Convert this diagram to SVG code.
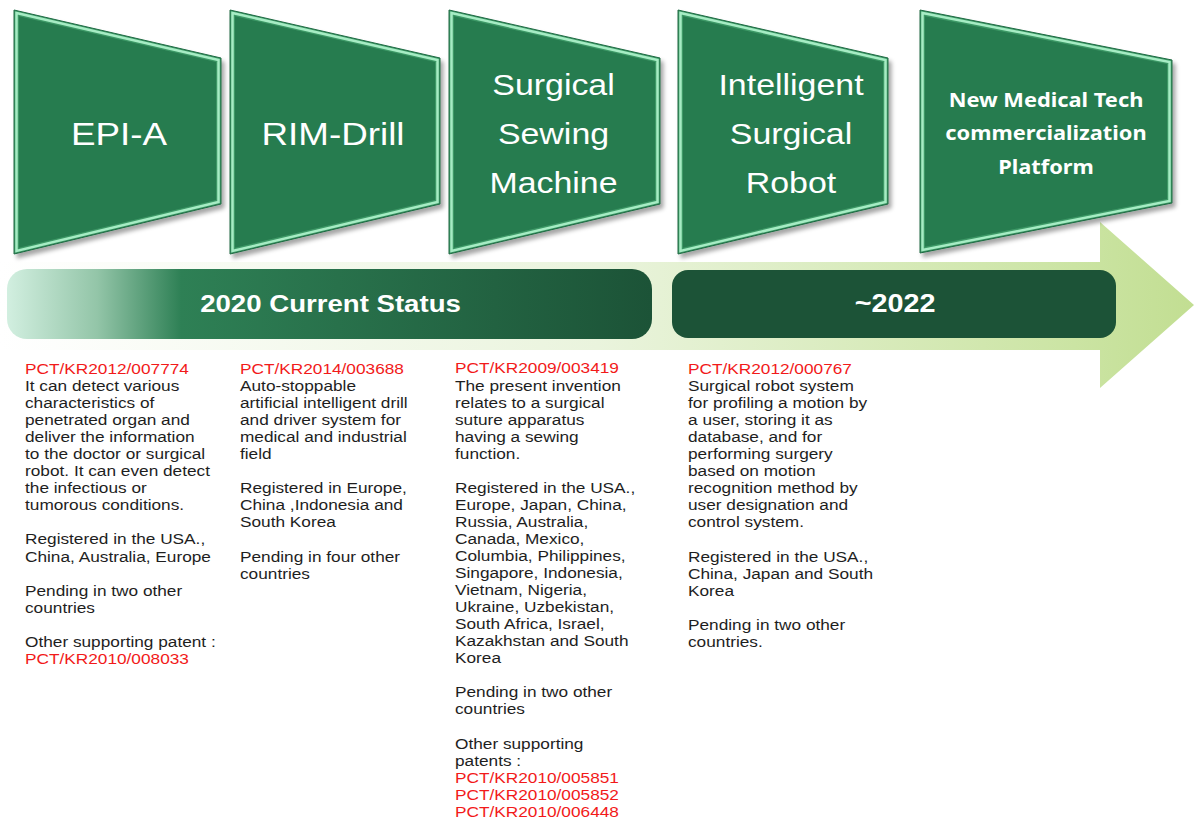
<svg xmlns="http://www.w3.org/2000/svg" width="1194" height="821" viewBox="0 0 1194 821">
<defs>
<linearGradient id="arrowGrad" x1="0" y1="0" x2="1194" y2="0" gradientUnits="userSpaceOnUse">
<stop offset="0" stop-color="#ffffff"/>
<stop offset="0.5" stop-color="#eaf4dd"/>
<stop offset="0.9" stop-color="#cbe4a3"/>
<stop offset="1" stop-color="#c2de92"/>
</linearGradient>
<linearGradient id="pillGrad" x1="7" y1="0" x2="652" y2="0" gradientUnits="userSpaceOnUse">
<stop offset="0" stop-color="#d2efe0"/>
<stop offset="0.14" stop-color="#93c5a8"/>
<stop offset="0.27" stop-color="#2e8055"/>
<stop offset="1" stop-color="#1c5337"/>
</linearGradient>
<filter id="shadow" x="-10%" y="-10%" width="130%" height="130%">
<feDropShadow dx="3" dy="4" stdDeviation="2" flood-color="#000" flood-opacity="0.35"/>
</filter>
<style>
.outer{fill:#3c9966;stroke:#1f6a43;stroke-width:1}
.ridge{fill:none;stroke:#a6ecc4;stroke-width:2.5;stroke-linejoin:miter}
.inner{fill:#287b50}
.title{font-family:"Liberation Sans",Arial,sans-serif;fill:#ffffff;text-anchor:middle}
.t1{font-size:32px}
.t3{font-size:29.5px}
.tb{font-family:"Noto Sans","Open Sans",sans-serif;font-weight:bold;font-size:19.5px}
.bar{font-family:"Liberation Sans",Arial,sans-serif;font-weight:bold;font-size:24px;fill:#ffffff;text-anchor:middle}
.body{font-family:"Liberation Sans",Arial,sans-serif;font-size:15px;fill:#1e1e1e}
.red{fill:#f21a1a}
</style>
</defs>

<g id="timeline-arrow">
<path d="M0,262 H1100 V222 L1194,305 L1100,388 V350 H0 Z" fill="url(#arrowGrad)"/>
</g>

<g id="node-epia" filter="url(#shadow)">
<polygon class="outer" points="14,10 221,58 221,204 14,254"/>
<polygon class="ridge" points="16.5,13 218.5,60 218.5,202 16.5,251"/>
<polygon class="inner" points="19,16.3 216,62 216,200 19,247.7"/>
</g>
<g id="node-rimdrill" filter="url(#shadow)">
<polygon class="outer" points="230,10 440,58 440,204 230,254"/>
<polygon class="ridge" points="232.5,13 437.5,60 437.5,202 232.5,251"/>
<polygon class="inner" points="235,16.3 435,62 435,200 235,247.7"/>
</g>
<g id="node-sewing" filter="url(#shadow)">
<polygon class="outer" points="449,10 660,58 660,204 449,254"/>
<polygon class="ridge" points="451.5,13 657.5,60 657.5,202 451.5,251"/>
<polygon class="inner" points="454,16.3 655,62 655,200 454,247.7"/>
</g>
<g id="node-robot" filter="url(#shadow)">
<polygon class="outer" points="678,10 888,58 888,204 678,254"/>
<polygon class="ridge" points="680.5,13 885.5,60 885.5,202 680.5,251"/>
<polygon class="inner" points="683,16.3 883,62 883,200 683,247.7"/>
</g>
<g id="node-platform" filter="url(#shadow)">
<polygon class="outer" points="920,10 1172,60 1172,203 920,253"/>
<polygon class="ridge" points="922.5,13 1169.5,62 1169.5,201 922.5,250"/>
<polygon class="inner" points="925,16.3 1167,64 1167,199 925,246.7"/>
</g>

<g id="labels-top">
<text class="title t1" transform="translate(119 144.5) scale(1.15 1)">EPI-A</text>
<text class="title t1" transform="translate(333 144.5) scale(1.15 1)">RIM-Drill</text>
<g transform="translate(553.5 0) scale(1.15 1)">
<text class="title t3"><tspan x="0" y="95.5">Surgical</tspan><tspan x="0" y="144.5">Sewing</tspan><tspan x="0" y="193.5">Machine</tspan></text>
</g>
<g transform="translate(791 0) scale(1.15 1)">
<text class="title t3"><tspan x="0" y="95.5">Intelligent</tspan><tspan x="0" y="144.5">Surgical</tspan><tspan x="0" y="193.5">Robot</tspan></text>
</g>
<g transform="translate(1046 0) scale(1.12 1)">
<text class="title tb"><tspan x="0" y="107">New Medical Tech</tspan><tspan x="0" y="140.5">commercialization</tspan><tspan x="0" y="174">Platform</tspan></text>
</g>
</g>

<g id="bar-2020">
<rect x="7" y="269" width="645" height="70" rx="20" ry="20" fill="url(#pillGrad)"/>
<text class="bar" transform="translate(330.5 311.5) scale(1.15 1)">2020 Current Status</text>
</g>
<g id="bar-2022">
<rect x="672" y="270" width="444" height="68" rx="16" ry="16" fill="#1c5337"/>
<text class="bar" style="font-size:25px" transform="translate(895 312) scale(1.15 1)">~2022</text>
</g>

<g id="col-epia" transform="translate(25 0) scale(1.15 1)">
<text class="body">
<tspan class="red" x="0" y="374">PCT/KR2012/007774</tspan>
<tspan x="0" dy="17.05">It can detect various</tspan>
<tspan x="0" dy="17.05">characteristics of</tspan>
<tspan x="0" dy="17.05">penetrated organ and</tspan>
<tspan x="0" dy="17.05">deliver the information</tspan>
<tspan x="0" dy="17.05">to the doctor or surgical</tspan>
<tspan x="0" dy="17.05">robot. It can even detect</tspan>
<tspan x="0" dy="17.05">the infectious or</tspan>
<tspan x="0" dy="17.05">tumorous conditions.</tspan>
<tspan x="0" dy="34.1">Registered in the USA.,</tspan>
<tspan x="0" dy="17.05">China, Australia, Europe</tspan>
<tspan x="0" dy="34.1">Pending in two other</tspan>
<tspan x="0" dy="17.05">countries</tspan>
<tspan x="0" dy="34.1">Other supporting patent :</tspan>
<tspan class="red" x="0" dy="17.05">PCT/KR2010/008033</tspan>
</text>
</g>

<g id="col-rimdrill" transform="translate(240 0) scale(1.15 1)">
<text class="body">
<tspan class="red" x="0" y="374">PCT/KR2014/003688</tspan>
<tspan x="0" dy="17.05">Auto-stoppable</tspan>
<tspan x="0" dy="17.05">artificial intelligent drill</tspan>
<tspan x="0" dy="17.05">and driver system for</tspan>
<tspan x="0" dy="17.05">medical and industrial</tspan>
<tspan x="0" dy="17.05">field</tspan>
<tspan x="0" dy="34.1">Registered in Europe,</tspan>
<tspan x="0" dy="17.05">China ,Indonesia and</tspan>
<tspan x="0" dy="17.05">South Korea</tspan>
<tspan x="0" dy="34.1">Pending in four other</tspan>
<tspan x="0" dy="17.05">countries</tspan>
</text>
</g>

<g id="col-sewing" transform="translate(455 0) scale(1.15 1)">
<text class="body">
<tspan class="red" x="0" y="373.5">PCT/KR2009/003419</tspan>
<tspan x="0" dy="17.05">The present invention</tspan>
<tspan x="0" dy="17.05">relates to a surgical</tspan>
<tspan x="0" dy="17.05">suture apparatus</tspan>
<tspan x="0" dy="17.05">having a sewing</tspan>
<tspan x="0" dy="17.05">function.</tspan>
<tspan x="0" dy="34.1">Registered in the USA.,</tspan>
<tspan x="0" dy="17.05">Europe, Japan, China,</tspan>
<tspan x="0" dy="17.05">Russia, Australia,</tspan>
<tspan x="0" dy="17.05">Canada, Mexico,</tspan>
<tspan x="0" dy="17.05">Columbia, Philippines,</tspan>
<tspan x="0" dy="17.05">Singapore, Indonesia,</tspan>
<tspan x="0" dy="17.05">Vietnam, Nigeria,</tspan>
<tspan x="0" dy="17.05">Ukraine, Uzbekistan,</tspan>
<tspan x="0" dy="17.05">South Africa, Israel,</tspan>
<tspan x="0" dy="17.05">Kazakhstan and South</tspan>
<tspan x="0" dy="17.05">Korea</tspan>
<tspan x="0" dy="34.1">Pending in two other</tspan>
<tspan x="0" dy="17.05">countries</tspan>
<tspan x="0" dy="34.1">Other supporting</tspan>
<tspan x="0" dy="17.05">patents :</tspan>
<tspan class="red" x="0" dy="17.05">PCT/KR2010/005851</tspan>
<tspan class="red" x="0" dy="17.05">PCT/KR2010/005852</tspan>
<tspan class="red" x="0" dy="17.05">PCT/KR2010/006448</tspan>
</text>
</g>

<g id="col-robot" transform="translate(688 0) scale(1.15 1)">
<text class="body">
<tspan class="red" x="0" y="374">PCT/KR2012/000767</tspan>
<tspan x="0" dy="17.05">Surgical robot system</tspan>
<tspan x="0" dy="17.05">for profiling a motion by</tspan>
<tspan x="0" dy="17.05">a user, storing it as</tspan>
<tspan x="0" dy="17.05">database, and for</tspan>
<tspan x="0" dy="17.05">performing surgery</tspan>
<tspan x="0" dy="17.05">based on motion</tspan>
<tspan x="0" dy="17.05">recognition method by</tspan>
<tspan x="0" dy="17.05">user designation and</tspan>
<tspan x="0" dy="17.05">control system.</tspan>
<tspan x="0" dy="34.1">Registered in the USA.,</tspan>
<tspan x="0" dy="17.05">China, Japan and South</tspan>
<tspan x="0" dy="17.05">Korea</tspan>
<tspan x="0" dy="34.1">Pending in two other</tspan>
<tspan x="0" dy="17.05">countries.</tspan>
</text>
</g>
</svg>
